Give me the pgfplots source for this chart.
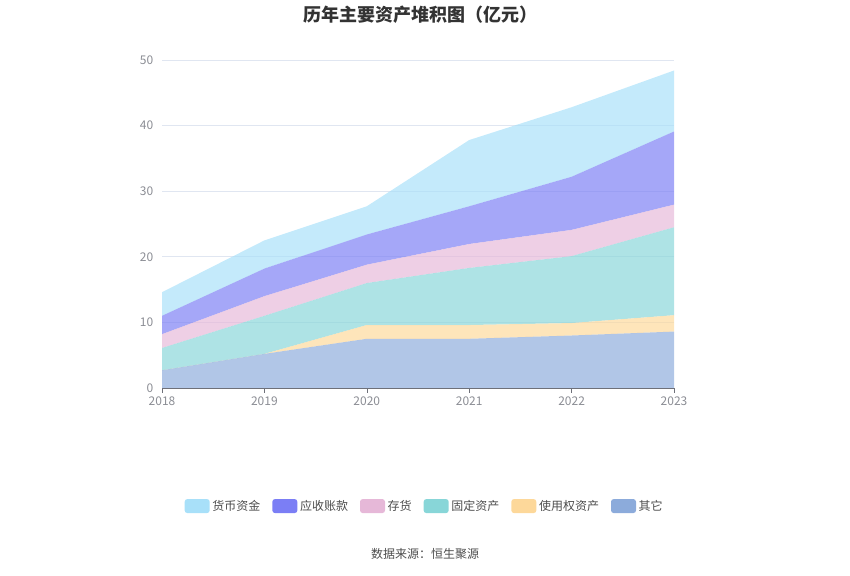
\documentclass[border=0pt]{standalone}
\usepackage{fontspec}
\setmainfont{Noto Sans CJK SC}
\usepackage{pgfplots}
\pgfplotsset{compat=1.18}
\definecolor{cCash}{HTML}{A8E0F9}
\definecolor{cAR}{HTML}{7B7EF5}
\definecolor{cInv}{HTML}{E6B8D8}
\definecolor{cFix}{HTML}{88D6D8}
\definecolor{cRou}{HTML}{FDD89A}
\definecolor{cOth}{HTML}{8CABDB}
\definecolor{cTxt}{HTML}{6E7079}
\definecolor{cGrid}{HTML}{E0E6F1}
\begin{document}
\begin{tikzpicture}
\useasboundingbox (0,0) rectangle (637.5pt,431.25pt);
\begin{axis}[
  at={(121.5pt,140.25pt)}, anchor=south west,
  scale only axis, width=384pt, height=246pt,
  xmin=2018, xmax=2023, ymin=0, ymax=50,
  xtick={2018,2019,2020,2021,2022,2023},
  ytick={0,10,20,30,40,50},
  /pgf/number format/1000 sep={},
  /pgf/number format/assume math mode=true,
  stack plots=y,
  axis y line*=left,
  y axis line style={draw=none},
  ytick style={draw=none},
  axis x line*=bottom,
  x axis line style={draw=cTxt, -},
  xtick style={draw=cTxt},
  xtick align=outside,
  major tick length=3.75pt,
  ymajorgrids, grid style={cGrid, line width=0.6pt},
  ticklabel style={font=\fontsize{9}{10}\selectfont, text=cTxt!80},
  yticklabel style={xshift=-3pt},
  xticklabel style={yshift=1pt},
  clip=false,
  legend columns=6,
  legend style={at={(0.5137,-0.36)}, anchor=center, draw=none, fill=none,
    font=\fontsize{9}{10}\selectfont, text=black!70,
    /tikz/every even column/.append style={column sep=7pt}},
  legend cell align=left,
  reverse legend,
  legend image code/.code={\fill[#1, fill opacity=1, draw=none, rounded corners=2pt] (0pt,-5.25pt) rectangle (18.75pt,5.25pt);},
]
\addplot[fill=cOth, fill opacity=0.68, draw=none] coordinates {(2018,2.7) (2019,5.2) (2020,7.5) (2021,7.5) (2022,8.0) (2023,8.6)} \closedcycle;
\addplot[fill=cRou, fill opacity=0.68, draw=none] coordinates {(2018,0) (2019,0) (2020,2.1) (2021,2.1) (2022,1.9) (2023,2.5)} \closedcycle;
\addplot[fill=cFix, fill opacity=0.68, draw=none] coordinates {(2018,3.4) (2019,5.8) (2020,6.4) (2021,8.7) (2022,10.2) (2023,13.4)} \closedcycle;
\addplot[fill=cInv, fill opacity=0.68, draw=none] coordinates {(2018,2.1) (2019,3.0) (2020,2.8) (2021,3.65) (2022,4.0) (2023,3.45)} \closedcycle;
\addplot[fill=cAR, fill opacity=0.68, draw=none] coordinates {(2018,2.8) (2019,4.2) (2020,4.6) (2021,5.75) (2022,8.1) (2023,11.15)} \closedcycle;
\addplot[fill=cCash, fill opacity=0.68, draw=none] coordinates {(2018,3.6) (2019,4.3) (2020,4.3) (2021,10.1) (2022,10.6) (2023,9.3)} \closedcycle;
\legend{其它,使用权资产,固定资产,存货,应收账款,货币资金}
\end{axis}
\node[font=\fontsize{13.5}{15}\selectfont\bfseries, text=black!80] at (315pt,420.5pt) {历年主要资产堆积图（亿元）};
\node[font=\fontsize{9}{10}\selectfont, text=black!70] at (318.75pt,15.75pt) {数据来源：恒生聚源};
\end{tikzpicture}
\end{document}
